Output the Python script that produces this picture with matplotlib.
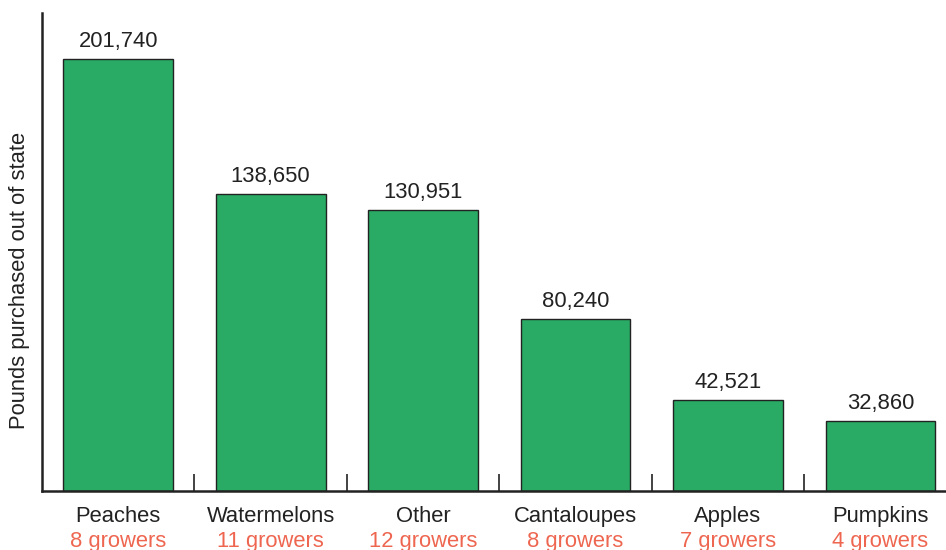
import matplotlib.pyplot as plt
from matplotlib.transforms import blended_transform_factory

plt.rcParams['font.family'] = ['Liberation Sans', 'DejaVu Sans']

# pounds of produce bought out of state, by crop
crops = ['Peaches', 'Watermelons', 'Other', 'Cantaloupes', 'Apples', 'Pumpkins']
pounds = [201740, 138650, 130951, 80240, 42521, 32860]
growers = [8, 11, 12, 8, 7, 4]

green = '#29ab65'
red = '#ee6650'
ink = '#222222'
fs = 15.8

fig = plt.figure(figsize=(9.46, 5.5), dpi=100)
ax = fig.add_axes([0.0444, 0.1073, 0.9556, 0.8691])

x = list(range(len(crops)))
bars = ax.bar(x, pounds, width=0.72, color=green, edgecolor=ink, linewidth=1)

for xi, v in zip(x, pounds):
    ax.annotate(f'{v:,}', (xi, v), xytext=(0, 5), textcoords='offset points',
                ha='center', va='bottom', fontsize=fs, color=ink)

# ticks sit between the bars, pointing inward
ax.set_xticks([i + 0.5 for i in x[:-1]])
ax.tick_params(axis='x', direction='in', length=12, width=1.2, color=ink,
               labelbottom=False)
ax.set_yticks([])

# limits after the ticks so set_xticks doesn't widen the view
ax.set_xlim(-0.5, 5.43)
ax.set_ylim(0, 223000)

for side in ['top', 'right']:
    ax.spines[side].set_visible(False)
for side in ['left', 'bottom']:
    ax.spines[side].set_linewidth(1.8)
    ax.spines[side].set_color(ink)

trans = blended_transform_factory(ax.transData, ax.transAxes)
for xi, name, g in zip(x, crops, growers):
    ax.text(xi, -0.054, name, transform=trans, ha='center', va='center',
            fontsize=fs, color=ink)
    ax.text(xi, -0.105, f'{g} growers', transform=trans, ha='center',
            va='center', fontsize=fs, color=red)

fig.text(0.021, 0.49, 'Pounds purchased out of state', rotation=90,
         ha='center', va='center', fontsize=fs, color=ink)

fig.savefig('out.png', dpi=100)
